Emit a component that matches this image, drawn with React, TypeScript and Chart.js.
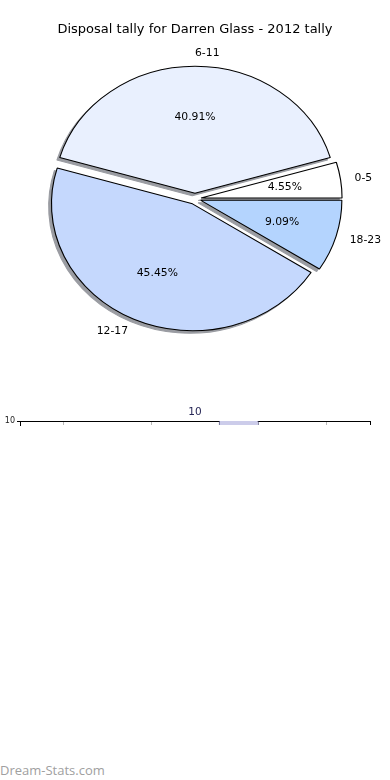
import React, { useEffect, useRef } from 'react';
import { Chart, registerables } from 'chart.js';

Chart.register(...registerables);

const chartTitle = 'Disposal tally for Darren Glass - 2012 tally';
const categories = ['0-5', '6-11', '12-17', '18-23'];
const tallies = [1, 9, 10, 2];
const sliceColors = ['#ffffff', '#e9f0fe', '#c5d8fd', '#b4d4fe'];
const barCategories = ['0-5', '6-11', '12-17', '18-23'];
const barValues = [1, 9, 10, 2];
const barAxisMin = 9.9;
const barAxisMax = 10;
const barTickValues = [10];
const watermark = 'Dream-Stats.com';

const FONT = "'DejaVu Sans', sans-serif";
const PIE_RADIUS = 127;
const ELLIPSE_X = 141 / 127;
const EXPLODE = 5.5;
const SHADOW_DX = -2.8;
const SHADOW_DY = 2.5;

Chart.defaults.font.family = FONT;

const piePlugin = {
  id: 'pieDecor',
  beforeDatasetsDraw(chart: any) {
    const ctx = chart.ctx;
    const arcs = chart.getDatasetMeta(0).data;
    if (!arcs.length) return;
    const cx = arcs[0].x;
    const cy = arcs[0].y;
    const drawAll = () => {
      arcs.forEach((arc: any) => {
        const mid = (arc.startAngle + arc.endAngle) / 2;
        ctx.save();
        ctx.translate(cx, cy);
        ctx.scale(ELLIPSE_X, 1);
        ctx.translate(-cx, -cy);
        ctx.translate(Math.cos(mid) * EXPLODE, Math.sin(mid) * EXPLODE);
        arc.draw(ctx);
        ctx.restore();
      });
    };
    ctx.save();
    ctx.translate(-10000, 0);
    ctx.shadowColor = '#9a9ca2';
    ctx.shadowOffsetX = 10000 + SHADOW_DX;
    ctx.shadowOffsetY = SHADOW_DY;
    ctx.shadowBlur = 0;
    drawAll();
    ctx.restore();
    drawAll();
    return false;
  },
  afterDraw(chart: any) {
    const ctx = chart.ctx;
    const meta = chart.getDatasetMeta(0);
    const data = chart.data.datasets[0].data as number[];
    const labels = chart.data.labels as string[];
    const total = data.reduce((a, b) => a + b, 0);
    meta.data.forEach((arc: any, i: number) => {
      const mid = (arc.startAngle + arc.endAngle) / 2;
      const r = arc.outerRadius;
      const pos = (f: number) => ({
        x: arc.x + Math.cos(mid) * (EXPLODE + f * r) * ELLIPSE_X,
        y: arc.y + Math.sin(mid) * (EXPLODE + f * r),
      });
      ctx.save();
      ctx.fillStyle = '#000';
      ctx.font = `10.8px ${FONT}`;
      ctx.textBaseline = 'middle';
      const p1 = pos(1.1);
      ctx.textAlign = Math.cos(mid) > -1e-9 ? 'left' : 'right';
      ctx.fillText(labels[i], p1.x, p1.y);
      const p2 = pos(0.6);
      ctx.textAlign = 'center';
      ctx.fillText(((data[i] / total) * 100).toFixed(2) + '%', p2.x, p2.y);
      ctx.restore();
    });
  },
};

const barPlugin = {
  id: 'barDecor',
  afterDraw(chart: any) {
    const { ctx, chartArea, scales } = chart;
    ctx.save();
    ctx.strokeStyle = '#000';
    ctx.lineWidth = 1;
    ctx.beginPath();
    ctx.moveTo(Math.round(chartArea.right) + 0.5, chartArea.top);
    ctx.lineTo(Math.round(chartArea.right) + 0.5, chartArea.bottom);
    ctx.stroke();
    const ys = scales.y;
    const data = chart.data.datasets[0].data as number[];
    ctx.fillStyle = '#262655';
    ctx.font = `10.5px ${FONT}`;
    ctx.textAlign = 'center';
    ctx.textBaseline = 'middle';
    data.forEach((v) => {
      if (v >= ys.max) {
        ctx.fillText(String(v), (chartArea.left + chartArea.right) / 2, ys.getPixelForValue(v) - 9);
      }
    });
    ctx.restore();
  },
};

export default function App() {
  const pieRef = useRef<HTMLCanvasElement>(null);
  const barRef = useRef<HTMLCanvasElement>(null);

  useEffect(() => {
    const order = [3, 2, 1, 0];
    const pie = new Chart(pieRef.current as HTMLCanvasElement, {
      type: 'pie',
      data: {
        labels: order.map((i) => categories[i]),
        datasets: [
          {
            data: order.map((i) => tallies[i]),
            backgroundColor: order.map((i) => sliceColors[i]),
            borderColor: '#000',
            borderWidth: 1,
            radius: PIE_RADIUS,
          } as any,
        ],
      },
      options: {
        responsive: false,
        animation: false,
        events: [],
        rotation: 90,
        layout: { padding: { top: 0, bottom: 40, left: 0, right: 0 } },
        plugins: {
          legend: { display: false },
          tooltip: { enabled: false },
          title: {
            display: true,
            text: chartTitle,
            color: '#000',
            font: { size: 13, weight: 'normal', family: FONT },
            padding: { top: 22, bottom: 0 },
          },
        },
      } as any,
      plugins: [piePlugin],
    });

    const bar = new Chart(barRef.current as HTMLCanvasElement, {
      type: 'bar',
      data: {
        labels: barCategories,
        datasets: [
          {
            data: barValues,
            backgroundColor: '#ccccea',
            borderColor: '#2e2e5e',
            borderWidth: { left: 1, right: 1, top: 0, bottom: 0 },
            borderSkipped: false,
            categoryPercentage: 1,
            barPercentage: 0.457,
          } as any,
        ],
      },
      options: {
        responsive: false,
        animation: false,
        events: [],
        layout: { padding: { left: 0, right: 20, top: 0, bottom: 15 } },
        plugins: { legend: { display: false }, tooltip: { enabled: false } },
        scales: {
          x: {
            position: 'top',
            offset: true,
            z: 1,
            grid: { display: true, offset: false, drawTicks: false, color: '#b8b8b8', lineWidth: 1 },
            border: { display: true, color: '#000', width: 1 },
            ticks: { display: false },
            afterFit: (s: any) => {
              s.height = 21;
            },
          },
          y: {
            min: barAxisMin,
            max: barAxisMax,
            afterBuildTicks: (s: any) => {
              s.ticks = barTickValues.map((v) => ({ value: v }));
            },
            ticks: { font: { size: 8, family: FONT }, color: '#222', padding: 2 },
            grid: { display: true, drawOnChartArea: false, drawTicks: true, tickLength: 3, color: '#000' },
            border: { display: true, color: '#000', width: 1 },
            afterFit: (s: any) => {
              s.width = 20;
            },
          },
        },
      } as any,
      plugins: [barPlugin],
    });

    return () => {
      pie.destroy();
      bar.destroy();
    };
  }, []);

  return (
    <div style={{ position: 'absolute', left: 0, top: 0, width: 390, height: 780, background: '#fff' }}>
      <canvas
        ref={pieRef}
        width={390}
        height={400}
        style={{ position: 'absolute', left: 0, top: 0, width: 390, height: 400 }}
      />
      <canvas
        ref={barRef}
        width={390}
        height={40}
        style={{ position: 'absolute', left: 0, top: 400, width: 390, height: 40 }}
      />
      <div
        style={{
          position: 'absolute',
          left: 0,
          top: 761,
          font: "13px 'Open Sans', sans-serif",
          color: '#a0a0a0',
          lineHeight: '18px',
          whiteSpace: 'nowrap',
        }}
      >
        {watermark}
      </div>
    </div>
  );
}
